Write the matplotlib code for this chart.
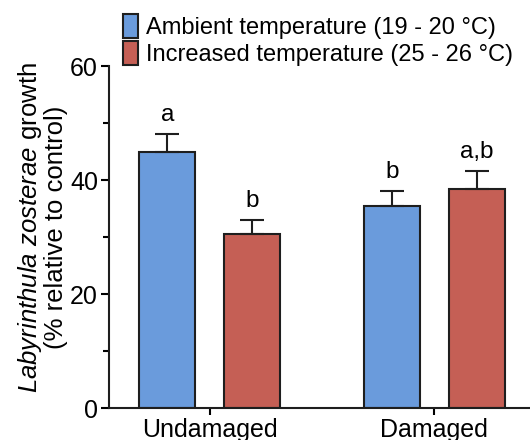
import matplotlib
matplotlib.use("Agg")
import matplotlib.pyplot as plt
import matplotlib.patches as mpatches
import numpy as np

plt.rcParams['font.family'] = ['Liberation Sans', 'DejaVu Sans']
plt.rcParams['mathtext.fontset'] = 'custom'
plt.rcParams['mathtext.rm'] = 'Liberation Sans'
plt.rcParams['mathtext.it'] = 'Liberation Sans:italic'

# data
groups = ["Undamaged", "Damaged"]
series = ["Ambient temperature (19 - 20 °C)", "Increased temperature (25 - 26 °C)"]
ambient = [45.0, 35.5]
ambient_se = [3.0, 2.6]
increased = [30.6, 38.5]
increased_se = [2.4, 3.1]
letters_ambient = ["a", "b"]
letters_increased = ["b", "a,b"]

blue = "#6a9bdc"
red = "#c55f55"
edge = "#1e1e1e"

fig = plt.figure(figsize=(5.3, 4.4), dpi=100)
ax = fig.add_axes([0.2057, 0.0727, 0.7943, 0.7773])

x = np.arange(len(groups))
w = 0.249
off = 0.1878

err_kw = dict(ecolor=edge, elinewidth=1.5, capsize=8.5, capthick=1.5)
ax.bar(x - off, ambient, w, color=blue, edgecolor=edge, linewidth=1.5,
       yerr=[np.zeros(2), ambient_se], error_kw=err_kw, zorder=2)
ax.bar(x + off, increased, w, color=red, edgecolor=edge, linewidth=1.5,
       yerr=[np.zeros(2), increased_se], error_kw=err_kw, zorder=2)

# significance letters
for i in range(len(groups)):
    ax.text(x[i] - off, ambient[i] + ambient_se[i] + 1.4, letters_ambient[i],
            ha='center', va='bottom', fontsize=17.5)
    ax.text(x[i] + off, increased[i] + increased_se[i] + 1.4, letters_increased[i],
            ha='center', va='bottom', fontsize=17.5)

ax.set_xlim(-0.447, 1.425)
ax.set_ylim(0, 60)
ax.set_yticks([0, 20, 40, 60])
ax.set_yticks([10, 30, 50], minor=True)
ax.set_xticks(x)
ax.set_xticklabels(groups, fontsize=18)
ax.tick_params(axis='y', labelsize=18, length=6, width=1.5, pad=2)
ax.tick_params(axis='y', which='minor', length=4, width=1.5)
ax.tick_params(axis='x', length=5, width=1.5, pad=2)

for s in ['top', 'right']:
    ax.spines[s].set_visible(False)
for s in ['left', 'bottom']:
    ax.spines[s].set_linewidth(1.5)
    ax.spines[s].set_color(edge)

ax.set_ylabel("$\\it{Labyrinthula\\ zosterae}$ growth\n(% relative to control)",
              fontsize=18.5, linespacing=1.0)
ax.yaxis.set_label_coords(-0.097, 0.528)

handles = [mpatches.Patch(facecolor=blue, edgecolor=edge, linewidth=1.5),
           mpatches.Patch(facecolor=red, edgecolor=edge, linewidth=1.5)]
fig.legend(handles, series, loc='upper left', bbox_to_anchor=(0.233, 0.969),
           frameon=False, fontsize=17, handlelength=0.6, handleheight=1.2,
           handletextpad=0.35, labelspacing=0.1, borderpad=0, borderaxespad=0)

fig.savefig("out.png", dpi=100)
